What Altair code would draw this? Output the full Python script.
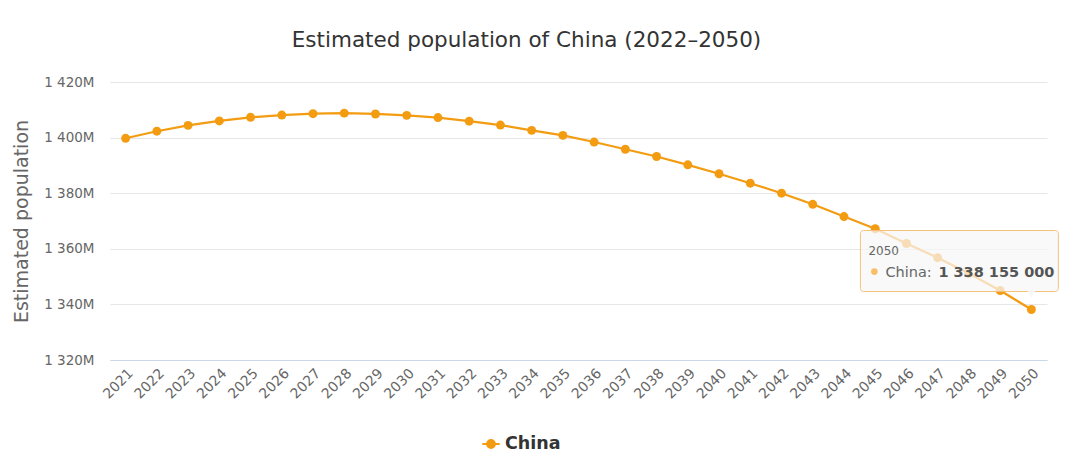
import altair as alt
import pandas as pd

years = [str(y) for y in range(2021, 2051)]
population_m = [
    1399.75, 1402.3, 1404.4, 1406.0, 1407.3, 1408.1, 1408.6, 1408.8, 1408.5, 1408.0,
    1407.2, 1405.9, 1404.5, 1402.6, 1400.8, 1398.4, 1395.8, 1393.2, 1390.2, 1387.0,
    1383.6, 1380.0, 1376.0, 1371.6, 1367.2, 1361.9, 1356.8, 1351.1, 1345.0, 1338.155,
]
series_name = "China"
y_ticks = [1320e6, 1340e6, 1360e6, 1380e6, 1400e6, 1420e6]

FONT = "DejaVu Sans"
ORANGE = "#f39c12"

df = pd.DataFrame({
    "year": years,
    "population": [round(v * 1e6) for v in population_m],
    "series": [series_name] * len(years),
})

tip = df.iloc[[-1]].copy()
tip["header"] = tip["year"]
tip["label"] = series_name + ": "
tip["valtext"] = tip["population"].map(lambda v: f"{int(v):,}".replace(",", " "))

x_enc = alt.X(
    "year:O",
    scale=alt.Scale(type="point", padding=0.5),
    axis=alt.Axis(
        title=None, labelAngle=-45, labelFontSize=14, labelColor="#666666",
        labelFont=FONT, ticks=False, domainColor="#ccd6eb", labelPadding=6,
        grid=False,
    ),
)
y_enc = alt.Y(
    "population:Q",
    scale=alt.Scale(domain=[1320e6, 1420e6], nice=False, zero=False),
    axis=alt.Axis(
        values=y_ticks, title="Estimated population", titleFontSize=19,
        titleColor="#666666", titleFont=FONT, titleFontWeight="normal",
        titlePadding=12, labelFontSize=13.5, labelColor="#666666", labelFont=FONT,
        labelPadding=16, ticks=False, domain=False, gridColor="#e6e6e6",
        labelExpr="replace(format(datum.value / 1000000, ',.0f'), ',', ' ') + 'M'",
    ),
)

base = alt.Chart(df).encode(x=x_enc, y=y_enc)

line = base.mark_line(color=ORANGE, strokeWidth=2.2)

legend_path = "M-1,0H1M-0.45,0A0.45,0.45 0 1,1 0.45,0A0.45,0.45 0 1,1 -0.45,0Z"
points = base.mark_circle(size=80, opacity=1).encode(
    color=alt.Color(
        "series:N",
        scale=alt.Scale(domain=[series_name], range=[ORANGE]),
        legend=alt.Legend(
            title=None, orient="none", legendX=371, legendY=352,
            symbolType=legend_path, symbolSize=300, symbolStrokeWidth=2,
            symbolFillColor=ORANGE, symbolStrokeColor=ORANGE,
            labelFontSize=17.5, labelFontWeight="bold", labelColor="#333333",
            labelFont=FONT, symbolOpacity=1,
        ),
    )
)

tx = alt.X("year:O")
ty = alt.Y("population:Q")
tchart = alt.Chart(tip).encode(x=tx, y=ty)

box = tchart.mark_rect(
    fill="#f7f7f7", fillOpacity=0.72, stroke="#f3c27a", strokeWidth=1,
    cornerRadius=3, xOffset=-171, x2Offset=27, yOffset=-79, y2Offset=-18,
).encode(x2=alt.X2("year"), y2=alt.Y2("population"))

pointer = tchart.mark_point(
    shape="triangle-down", filled=True, fill="#f7f7f7", fillOpacity=0.9,
    strokeOpacity=0, size=70, yOffset=-15.5, opacity=1,
)

header = tchart.mark_text(
    align="left", baseline="alphabetic", dx=-163, dy=-55, fontSize=12,
    color="#666666", font=FONT,
).encode(text="header:N")

dot = tchart.mark_circle(
    size=45, color="#f7bf66", opacity=1, xOffset=-157, yOffset=-38,
)

label = tchart.mark_text(
    align="left", baseline="alphabetic", dx=-146, dy=-33, fontSize=14.5,
    color="#666666", font=FONT,
).encode(text="label:N")

value = tchart.mark_text(
    align="left", baseline="alphabetic", dx=-93, dy=-33, fontSize=14.5,
    color="#555555", font=FONT, fontWeight="bold",
).encode(text="valtext:N")

chart = alt.layer(line, points, box, pointer, header, dot, label, value).properties(
    width=937,
    height=278,
    background="white",
    title=alt.TitleParams(
        "Estimated population of China (2022–2050)", fontSize=21.5, font=FONT,
        color="#333333", fontWeight="normal", anchor="middle", offset=24, dx=-52,
    ),
    autosize=alt.AutoSizeParams(type="none"),
    padding={"left": 102, "top": 74, "right": 26, "bottom": 98},
).configure_view(strokeWidth=0, stroke=None)

chart.save("out.html", embed_options={"renderer": "svg", "actions": False})
